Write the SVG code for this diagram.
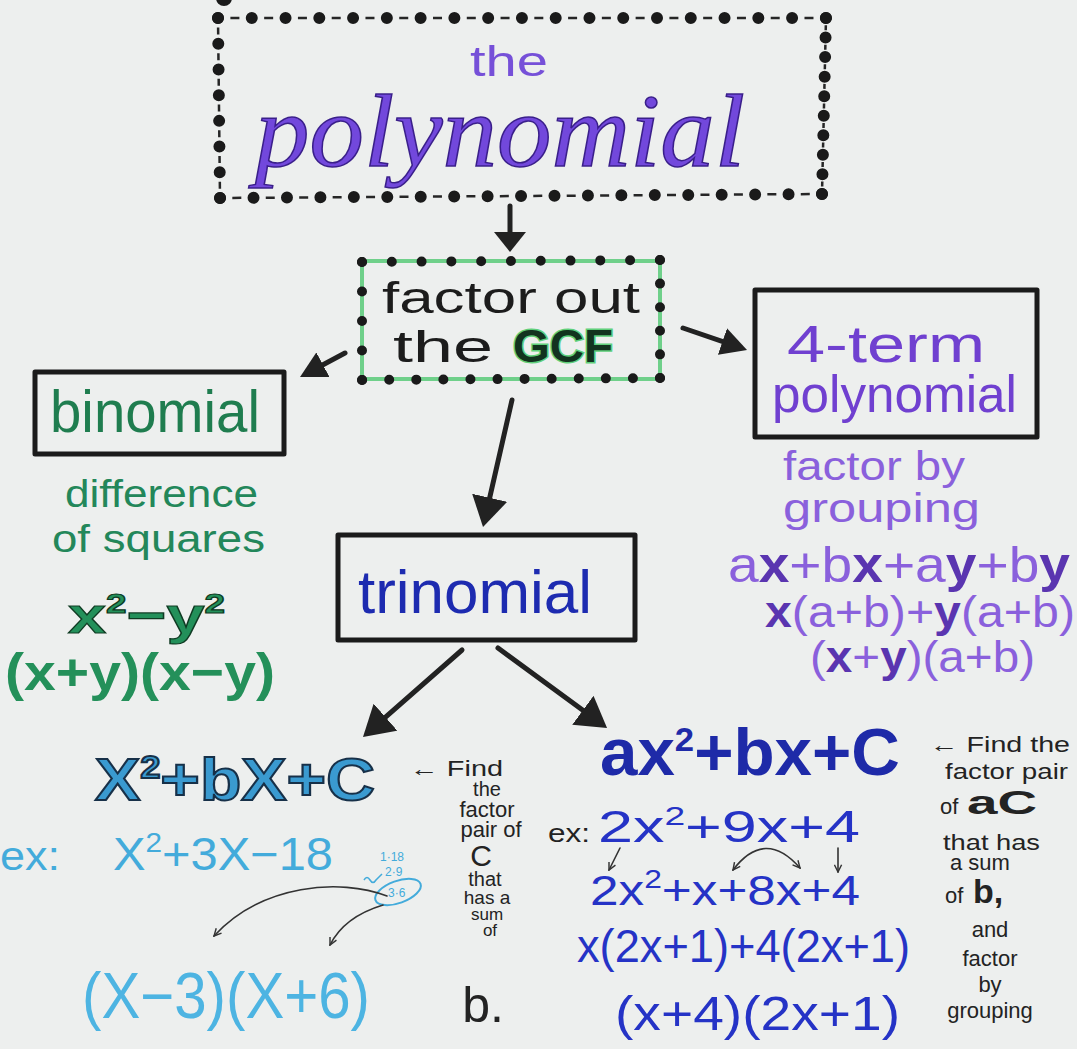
<svg xmlns="http://www.w3.org/2000/svg" width="1077" height="1049" viewBox="0 0 1077 1049">
<style>
svg { font-family: "Liberation Sans", "DejaVu Sans", sans-serif; }
.box { fill: none; stroke: #1b1b1b; stroke-width: 5; stroke-linejoin: round; }
.dotA { fill: none; stroke: #1a1a1a; stroke-width: 12; stroke-linecap: round; }
.dotB { fill: none; stroke: #1a1a1a; stroke-width: 10; stroke-linecap: round; }
.dash { fill: none; stroke: #262626; stroke-width: 2.5; }
.conn { fill: none; stroke: #222; stroke-width: 5; stroke-linecap: round; }
.thin { fill: none; stroke: #333; stroke-width: 1.6; stroke-linecap: round; }
.notes { fill: #232323; font-size: 22px; }
.green { fill: #23875a; }
.purple { fill: #8a60dc; }
.teal { fill: #43abdb; }
.blue { fill: #2533c6; }
</style>
<defs>
<marker id="headL" viewBox="0 0 30 36" refX="22" refY="18" markerWidth="30" markerHeight="36" markerUnits="userSpaceOnUse" orient="auto"><path d="M0,0 L30,18 L0,36 z" fill="#222"/></marker>
<marker id="headM" viewBox="0 0 26 28" refX="19" refY="14" markerWidth="26" markerHeight="28" markerUnits="userSpaceOnUse" orient="auto"><path d="M0,0 L26,14 L0,28 z" fill="#222"/></marker>
<marker id="headS" viewBox="0 0 20 32" refX="14" refY="16" markerWidth="20" markerHeight="32" markerUnits="userSpaceOnUse" orient="auto"><path d="M0,0 L20,16 L0,32 z" fill="#222"/></marker>
<marker id="tip" viewBox="0 0 10 10" refX="9" refY="5" markerWidth="9" markerHeight="9" markerUnits="userSpaceOnUse" orient="auto-start-reverse"><path d="M1,1 L9,5 L1,9" fill="none" stroke="#333" stroke-width="1.6"/></marker>
</defs>
<rect x="0" y="0" width="1077" height="1049" fill="#edefee"/>
<circle cx="224" cy="-2" r="8" fill="#1a1a1a"/>

<g id="node-polynomial">
  <path class="dash" d="M218,18 L826,18" stroke-dasharray="0 12.39 9 12.38"/>
  <path class="dash" d="M826,18 L822,194" stroke-dasharray="0 7.27 5 7.27"/>
  <path class="dash" d="M822,194 L220,198" stroke-dasharray="0 12.22 9 12.22"/>
  <path class="dash" d="M220,198 L218,18" stroke-dasharray="0 9.35 7 9.35"/>
  <path class="dotA" d="M218,18 L826,18" stroke-dasharray="0 33.77"/>
  <path class="dotA" d="M826,18 L822,194" stroke-dasharray="0 19.55"/>
  <path class="dotA" d="M822,194 L220,198" stroke-dasharray="0 33.44"/>
  <path class="dotA" d="M220,198 L218,18" stroke-dasharray="0 25.71"/>
  <text x="470" y="76" font-size="42" fill="#7650d8" textLength="78" lengthAdjust="spacingAndGlyphs">the</text>
  <text x="255" y="166" font-family="Liberation Serif, serif" font-style="italic" font-size="104" fill="#7248dc" stroke="#3a1f8a" stroke-width="1.5" textLength="490" lengthAdjust="spacingAndGlyphs">polynomial</text>
</g>

<g id="node-gcf">
  <rect x="362" y="261" width="298" height="118" fill="none" stroke="#6fd08a" stroke-width="4"/>
  <path class="dotB" d="M362,262 L660,260" stroke-dasharray="0 29.79"/>
  <path class="dotB" d="M660,260 L660,378" stroke-dasharray="0 23.59"/>
  <path class="dotB" d="M660,378 L362,380" stroke-dasharray="0 27.08"/>
  <path class="dotB" d="M362,380 L362,262" stroke-dasharray="0 29.49"/>
  <text x="382" y="313" font-size="44" fill="#1c1c1c" textLength="258" lengthAdjust="spacingAndGlyphs">factor out</text>
  <text x="393" y="362" font-size="44" fill="#1c1c1c" textLength="100" lengthAdjust="spacingAndGlyphs">the</text>
  <text x="513" y="362" font-size="46" font-weight="bold" fill="#12331f" stroke="#5fd07a" stroke-width="3" paint-order="stroke" textLength="100" lengthAdjust="spacingAndGlyphs">GCF</text>
</g>

<g id="node-binomial">
  <rect class="box" x="35" y="372" width="249" height="82"/>
  <text x="50" y="432" font-size="60" fill="#1f7d4f" textLength="210" lengthAdjust="spacingAndGlyphs">binomial</text>
</g>
<g id="binomial-notes" class="green">
  <text x="65" y="507" font-size="38" textLength="193" lengthAdjust="spacingAndGlyphs">difference</text>
  <text x="52" y="552" font-size="38" textLength="213" lengthAdjust="spacingAndGlyphs">of squares</text>
  <text x="68" y="633" font-size="52" font-weight="bold" fill="#23905a" stroke="#0f3a22" stroke-width="1.2" textLength="157" lengthAdjust="spacingAndGlyphs">x<tspan dy="-20" font-size="28">2</tspan><tspan dy="20">−y</tspan><tspan dy="-20" font-size="28">2</tspan></text>
  <text x="5" y="690" font-size="52" font-weight="bold" fill="#24905a" textLength="270" lengthAdjust="spacingAndGlyphs">(x+y)(x−y)</text>
</g>

<g id="node-4term">
  <rect class="box" x="755" y="290" width="282" height="147"/>
  <text x="787" y="362" font-size="52" fill="#7040d0" textLength="198" lengthAdjust="spacingAndGlyphs">4-term</text>
  <text x="772" y="412" font-size="52" fill="#7040d0" textLength="245" lengthAdjust="spacingAndGlyphs">polynomial</text>
</g>
<g id="4term-notes" class="purple">
  <text x="783" y="480" font-size="40" textLength="182" lengthAdjust="spacingAndGlyphs">factor by</text>
  <text x="783" y="522" font-size="40" textLength="197" lengthAdjust="spacingAndGlyphs">grouping</text>
  <text x="728" y="582" font-size="50" textLength="342" lengthAdjust="spacingAndGlyphs">a<tspan font-weight="bold" fill="#5a35b0">x</tspan>+b<tspan font-weight="bold" fill="#5a35b0">x</tspan>+a<tspan font-weight="bold" fill="#5a35b0">y</tspan>+b<tspan font-weight="bold" fill="#5a35b0">y</tspan></text>
  <text x="765" y="627" font-size="44" textLength="310" lengthAdjust="spacingAndGlyphs"><tspan font-weight="bold" fill="#5a35b0">x</tspan>(a+b)+<tspan font-weight="bold" fill="#5a35b0">y</tspan>(a+b)</text>
  <text x="810" y="672" font-size="44" textLength="225" lengthAdjust="spacingAndGlyphs">(<tspan font-weight="bold" fill="#5a35b0">x</tspan>+<tspan font-weight="bold" fill="#5a35b0">y</tspan>)(a+b)</text>
</g>

<g id="node-trinomial">
  <rect class="box" x="338" y="535" width="297" height="105"/>
  <text x="358" y="613" font-size="62" fill="#1d2bb0" textLength="234" lengthAdjust="spacingAndGlyphs">trinomial</text>
</g>

<g id="node-simple-trinomial">
  <text x="95" y="800" font-size="60" font-weight="bold" fill="#3a9ad0" stroke="#173048" stroke-width="2" textLength="280" lengthAdjust="spacingAndGlyphs">X<tspan dy="-22" font-size="32">2</tspan><tspan dy="22">+bX+C</tspan></text>
  <text x="0" y="870" font-size="40" class="teal" textLength="60" lengthAdjust="spacingAndGlyphs">ex:</text>
  <text x="113" y="870" font-size="46" class="teal" textLength="220" lengthAdjust="spacingAndGlyphs">X<tspan dy="-18" font-size="28">2</tspan><tspan dy="18">+3X−18</tspan></text>
  <text x="380" y="861" font-size="12" class="teal">1·18</text>
  <text x="385" y="876" font-size="12" class="teal">2·9</text>
  <text x="388" y="897" font-size="12" class="teal">3·6</text>
  <ellipse cx="398" cy="892" rx="24" ry="11" transform="rotate(-20 398 892)" fill="none" stroke="#43abdb" stroke-width="2"/>
  <path d="M364,880 q3,-5 6,0 t6,0 l6,-6" fill="none" stroke="#43abdb" stroke-width="1.5"/>
  <text x="82" y="1018" font-size="64" fill="#4db4e2" textLength="288" lengthAdjust="spacingAndGlyphs">(X−3)(X+6)</text>
  <g class="notes">
    <text x="410" y="776" textLength="93" lengthAdjust="spacingAndGlyphs">← Find</text>
    <text x="487" y="796" font-size="20" text-anchor="middle">the</text>
    <text x="487" y="817" text-anchor="middle">factor</text>
    <text x="491" y="837" text-anchor="middle">pair of</text>
    <text x="481" y="866" font-size="30" text-anchor="middle">C</text>
    <text x="485" y="886" font-size="20" text-anchor="middle">that</text>
    <text x="487" y="904" font-size="19" text-anchor="middle">has a</text>
    <text x="487" y="920" font-size="17" text-anchor="middle">sum</text>
    <text x="490" y="936" font-size="17" text-anchor="middle">of</text>
    <text x="483" y="1022" font-size="50" text-anchor="middle">b.</text>
  </g>
</g>

<g id="node-general-trinomial">
  <text x="600" y="775" font-size="66" font-weight="bold" fill="#1e2aa8" textLength="300" lengthAdjust="spacingAndGlyphs">ax<tspan dy="-24" font-size="34">2</tspan><tspan dy="24">+bx+C</tspan></text>
  <text x="548" y="842" font-size="26" fill="#222" textLength="42" lengthAdjust="spacingAndGlyphs">ex:</text>
  <text x="598" y="842" font-size="44" class="blue" textLength="262" lengthAdjust="spacingAndGlyphs">2x<tspan dy="-17" font-size="26">2</tspan><tspan dy="17">+9x+4</tspan></text>
  <text x="590" y="905" font-size="42" class="blue" textLength="270" lengthAdjust="spacingAndGlyphs">2x<tspan dy="-17" font-size="26">2</tspan><tspan dy="17">+x+8x+4</tspan></text>
  <text x="577" y="962" font-size="46" class="blue" textLength="333" lengthAdjust="spacingAndGlyphs">x(2x+1)+4(2x+1)</text>
  <text x="615" y="1030" font-size="48" class="blue" textLength="285" lengthAdjust="spacingAndGlyphs">(x+4)(2x+1)</text>
  <g class="notes">
    <text x="930" y="752" textLength="140" lengthAdjust="spacingAndGlyphs">← Find the</text>
    <text x="945" y="779" textLength="123" lengthAdjust="spacingAndGlyphs">factor pair</text>
    <text x="940" y="814">of</text>
    <text x="967" y="814" font-size="34" font-weight="bold" textLength="70" lengthAdjust="spacingAndGlyphs">aC</text>
    <text x="943" y="850" textLength="97" lengthAdjust="spacingAndGlyphs">that has</text>
    <text x="950" y="870">a sum</text>
    <text x="945" y="903">of</text>
    <text x="973" y="903" font-size="34" font-weight="bold">b,</text>
    <text x="990" y="937" text-anchor="middle">and</text>
    <text x="990" y="966" text-anchor="middle">factor</text>
    <text x="990" y="992" text-anchor="middle">by</text>
    <text x="990" y="1018" text-anchor="middle">grouping</text>
  </g>
</g>

<g id="connectors">
  <path class="conn" d="M510,206 L510,246" marker-end="url(#headS)"/>
  <path class="conn" d="M345,353 L306.2,373.7" marker-end="url(#headM)"/>
  <path class="conn" d="M683,328 L740.4,347.7" marker-end="url(#headM)"/>
  <path class="conn" d="M512,400 L484.8,519.2" marker-end="url(#headL)"/>
  <path class="conn" d="M462,650 L369,731.7" marker-end="url(#headL)"/>
  <path class="conn" d="M498,648 L600.6,723.3" marker-end="url(#headL)"/>
  <path class="thin" d="M387,896 C340,878 262,884 214,936" marker-end="url(#tip)"/>
  <path class="thin" d="M383,905 C360,912 340,925 330,945" marker-end="url(#tip)"/>
  <path class="thin" d="M620,848 L609,870" marker-end="url(#tip)"/>
  <path class="thin" d="M733,870 Q765,828 800,868" marker-start="url(#tip)" marker-end="url(#tip)"/>
  <path class="thin" d="M838,848 L838,872" marker-end="url(#tip)"/>
</g>
</svg>
